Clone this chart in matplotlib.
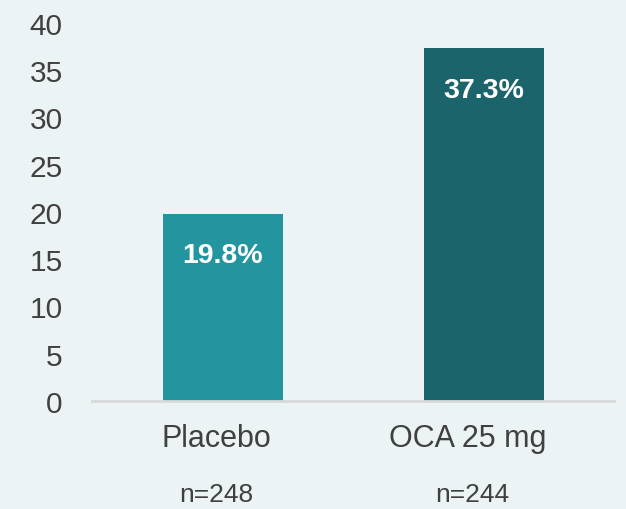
import matplotlib.pyplot as plt

groups = ['Placebo', 'OCA 25 mg']
counts = ['n=248', 'n=244']
response = [19.8, 37.3]
bar_colors = ['#23959F', '#1B646C']

plt.rcParams['font.family'] = ['Liberation Sans', 'DejaVu Sans']

bg = '#EBF3F5'
fig = plt.figure(figsize=(6.26, 5.10), dpi=100, facecolor=bg)
ax = fig.add_axes([0.147, 0.212, 0.834, 0.741], facecolor=bg)

x = list(range(len(groups)))
bars = ax.bar(x, response, width=0.46, color=bar_colors, zorder=2)

# value labels just under the top of each bar
for b, v in zip(bars, response):
    ax.annotate(f'{v:.1f}%', (b.get_x() + b.get_width() / 2, v),
                xytext=(0, -30), textcoords='offset points',
                ha='center', va='center', color='white',
                fontsize=20.5, fontweight='bold')

ax.set_xlim(-0.5, 1.5)
ax.set_ylim(0, 40)
ax.set_yticks(range(0, 41, 5))
ax.tick_params(axis='y', length=0, pad=21, labelsize=21.5, labelcolor='#404040')
ax.set_xticks([])

# group names and sample sizes under the axis
trans = ax.get_xaxis_transform()
shift = [-0.023, -0.06]
for i, (g, n) in enumerate(zip(groups, counts)):
    ax.text(i + shift[i], -0.098, g, transform=trans, ha='center', va='center',
            fontsize=22, color='#404040')
    ax.text(i + shift[i] + 0.015 * i, -0.246, n, transform=trans, ha='center',
            va='center', fontsize=19, color='#404040')

for s in ['left', 'right', 'top']:
    ax.spines[s].set_visible(False)
ax.spines['bottom'].set_color('#D9D9D9')
ax.spines['bottom'].set_linewidth(2)

fig.savefig('out.png', dpi=100, facecolor=bg)
